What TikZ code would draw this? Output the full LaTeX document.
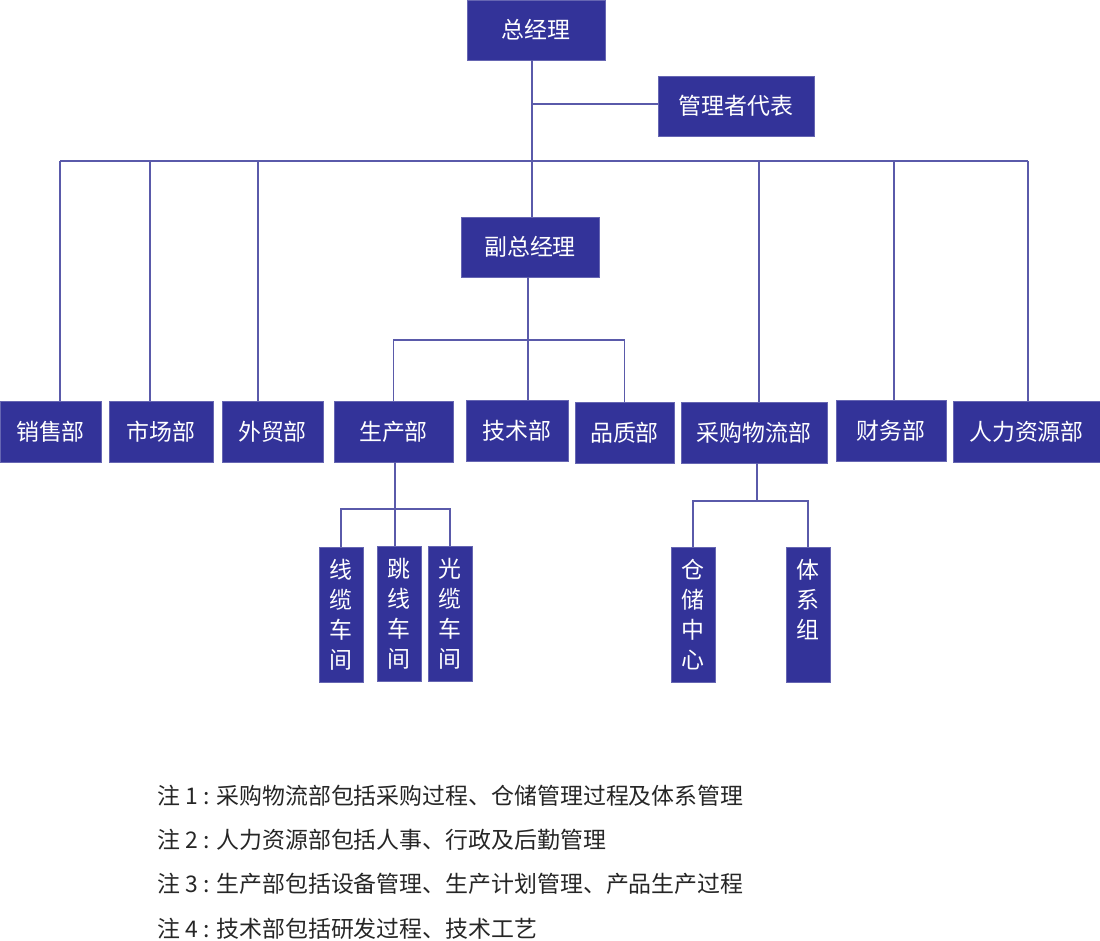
\documentclass[tikz,border=0pt]{standalone}
\usepackage{fontspec}
\setmainfont{Noto Sans CJK SC}
\definecolor{boxblue}{HTML}{333399}
\definecolor{linkblue}{HTML}{5A5AAA}
\begin{document}
\begin{tikzpicture}[x=0.025cm,y=-0.025cm]
        \tikzstyle{box}=[fill=boxblue,draw=boxblue!75!white,text=white,inner sep=0pt,
            font=\fontsize{16.3}{21.3}\selectfont,minimum width=#1*0.025cm,minimum height=61*0.025cm]
        \tikzstyle{unit}=[box=44,minimum height=135*0.025cm,align=center]
        \tikzstyle{link}=[draw=linkblue,line width=0.9pt]
        \tikzstyle{note}=[anchor=west,inner sep=0pt,text=black!85,font=\fontsize{16.3}{20}\selectfont]
        \useasboundingbox (0,0) rectangle (1100,941);
        % top level
        \node[box=138,minimum height=60*0.025cm] (zjl) at (536,30) {总经理};
        \node[box=156,minimum height=60*0.025cm] (glzdb) at (736,106) {管理者代表};
        \node[box=138,minimum height=60*0.025cm] (fzjl) at (530,247) {副总经理};
        % departments
        \node[box=101] (xiaoshou) at (50.5,431.5) {销售部};
        \node[box=104] (shichang) at (161,431.5) {市场部};
        \node[box=101] (waimao) at (272.5,431.5) {外贸部};
        \node[box=119] (shengchan) at (393.5,431.5) {生产部};
        \node[box=102] (jishu) at (517,430.5) {技术部};
        \node[box=99] (pinzhi) at (624.5,432.5) {品质部};
        \node[box=146] (caigou) at (754,432.5) {采购物流部};
        \node[box=110] (caiwu) at (891,431) {财务部};
        \node[box=147] (renli) at (1026.5,431.5) {人力资源部};
        % workshops
        \node[unit] (xianlan) at (341,614.5) {线\\缆\\车\\间};
        \node[unit] (tiaoxian) at (399,613.5) {跳\\线\\车\\间};
        \node[unit] (guanglan) at (450,613.5) {光\\缆\\车\\间};
        \node[unit] (cangchu) at (693,614.5) {仓\\储\\中\\心};
        \node[unit] (tixi) at (808,614.5) {体\\系\\组\\\phantom{组}};
        % connectors
        \coordinate (top) at (532,104);
        \draw[link] (top |- zjl.south) -- (top |- fzjl.north);
        \draw[link] (top) -- (top -| glzdb.west);
        \coordinate (busL) at (60,161);
        \coordinate (busR) at (1028,161);
        \draw[link] (busL) -- (busR);
        \foreach \d/\x in {xiaoshou/60,shichang/150,waimao/258,caigou/759,caiwu/894,renli/1028}{
            \coordinate (b\d) at (\x,161);
            \draw[link] (b\d) -- (b\d |- \d.north);
        }
        \coordinate (fzb) at (528,340);
        \draw[link] (fzb |- fzjl.south) -- (fzb |- jishu.north);
        \draw[link] (shengchan.north) |- (fzb) -| (pinzhi.north);
        \coordinate (scb) at (395,509);
        \draw[link] (scb |- shengchan.south) -- (scb |- tiaoxian.north);
        \draw[link] (xianlan.north) |- (scb) -| (guanglan.north);
        \coordinate (cgb) at (757,501);
        \draw[link] (cgb |- caigou.south) -- (cgb);
        \draw[link] (cangchu.north) |- (cgb) -| (tixi.north);
        % notes
        \node[note] (n1) at (157,796) {注 1 : 采购物流部包括采购过程、仓储管理过程及体系管理};
        \node[note] (n2) at (157,840) {注 2 : 人力资源部包括人事、行政及后勤管理};
        \node[note] (n3) at (157,884) {注 3 : 生产部包括设备管理、生产计划管理、产品生产过程};
        \node[note] (n4) at (157,929) {注 4 : 技术部包括研发过程、技术工艺};
\end{tikzpicture}
\end{document}
